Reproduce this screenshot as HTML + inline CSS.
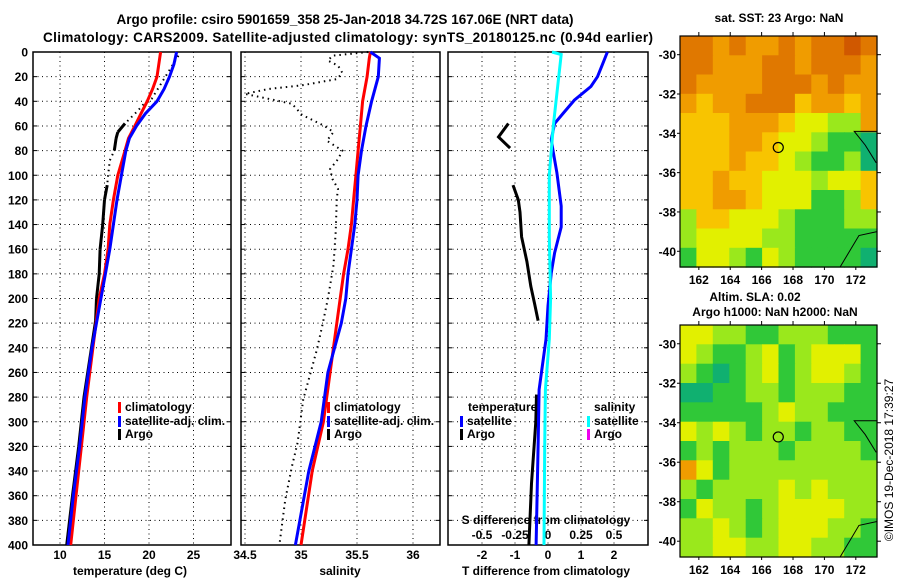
<!DOCTYPE html>
<html><head><meta charset="utf-8"><style>
body{margin:0;background:#fff;}
svg{display:block;font-family:"Liberation Sans",sans-serif;font-weight:bold;}
</style></head><body>
<svg id="fig" width="900" height="580" viewBox="0 0 900 580" xmlns="http://www.w3.org/2000/svg">
<g id="maps"></g>
<g id="plots"></g>
<text x="345" y="24" font-size="13.5" text-anchor="middle">Argo profile: csiro 5901659_358 25-Jan-2018 34.72S 167.06E (NRT data)</text>
<text x="348" y="42" font-size="13.5" text-anchor="middle" textLength="610">Climatology: CARS2009. Satellite-adjusted climatology: synTS_20180125.nc (0.94d earlier)</text>
<text x="779" y="22" font-size="12" text-anchor="middle">sat. SST: 23 Argo: NaN</text>
<text x="755" y="301" font-size="12" text-anchor="middle">Altim. SLA: 0.02</text>
<text x="775" y="316" font-size="12" text-anchor="middle">Argo h1000: NaN h2000: NaN</text>
<text x="0" y="0" font-size="12" font-weight="normal" text-anchor="middle" transform="translate(893,460) rotate(-90)">©IMOS 19-Dec-2018 17:39:27</text>
</svg>
<script>
// ---- data ----
const depthC = [0,10,20,30,40,50,60,70,80,100,120,140,160,180,200,240,280,320,360,400];
const tempClim = [21.3,21.1,20.9,20.4,19.8,19.1,18.4,17.7,17.3,16.5,16.0,15.6,15.4,15.0,14.4,13.7,13.0,12.4,11.8,11.2];
const tempSat = [23.1,22.8,22.3,21.7,20.9,19.6,18.6,17.8,17.4,16.9,16.4,16.0,15.6,15.1,14.6,13.6,12.8,12.2,11.5,10.9];
const argoTDepth = [3,38,43,48,58,65,70,80,88,100,108,120,140,160,180,200,218,280,320,360,400];
const argoTemp = [23.3,20.3,19.3,18.7,17.3,16.5,16.3,16.1,15.6,15.4,15.3,15.0,14.8,14.5,14.4,14.1,14.0,12.7,12.1,11.4,10.75];
const argoTGood = [0,0,0,0,1,1,1,1,0,0,1,1,1,1,1,1,1,1,1,1,1];
const salDepth = [0,5,20,40,60,80,100,120,140,160,180,200,220,260,300,340,400];
const salClim = [35.62,35.61,35.59,35.55,35.53,35.51,35.49,35.47,35.45,35.42,35.38,35.35,35.32,35.26,35.20,35.10,35.00];
const salSat = [35.62,35.70,35.69,35.63,35.58,35.54,35.51,35.50,35.48,35.45,35.42,35.40,35.36,35.24,35.18,35.07,34.95];
const argoSDepth = [0,3,7,11,17,22,27,30,34,38,42,51,60,65,72,80,87,95,103,111,119,146,173,200,222,242,282,317,336,363,398];
const argoSal = [35.60,35.28,35.24,35.33,35.37,35.32,35.01,34.71,34.50,34.71,34.92,35.01,35.21,35.29,35.23,35.37,35.33,35.26,35.28,35.33,35.32,35.31,35.29,35.24,35.19,35.14,35.02,34.97,34.92,34.86,34.81];
const tdSatDepth = [0,10,20,28,39,50,58,71,80,98,125,142,163,179,206,233,274,320,360,400];
const tdSat = [1.8,1.65,1.5,1.3,0.8,0.45,0.2,0.1,0.15,0.27,0.4,0.4,0.2,0.1,0,-0.06,-0.27,-0.3,-0.33,-0.36];
const tdArgoDepth = [58,69,78,null,108,120,130,150,170,190,205,218,null,278,300,350,400];
const tdArgo = [-1.2,-1.5,-1.15,null,-1.06,-0.9,-0.85,-0.8,-0.64,-0.52,-0.4,-0.3,null,-0.35,-0.37,-0.5,-0.58];
const sdSatDepth = [0,2,60,100,150,200,233,274,320,400];
const sdSat = [0.03,0.1,0.04,0.01,0.01,0.02,0.01,-0.02,-0.025,-0.03];
const depthTicks = [0,20,40,60,80,100,120,140,160,180,200,220,240,260,280,300,320,340,360,380,400];
const tempTicks = [10,15,20,25];
const salTicks = [34.5,35,35.5,36];
const tdTicks = [-2,-1,0,1,2];
const sdTicks = [-0.5,-0.25,0,0.25,0.5];
const lonTicks = [162,164,166,168,170,172];
const latTicks = [-30,-32,-34,-36,-38,-40];
const sstGrid = ["DDODOODODDRD","DDOOODDODDDO","DOOOODDDODOO","OYOODDDYOOYO","YYYOOOYLLGGO","YYYOOYLLGNNT","YYYOYYLGNNGT","YYOYYLLLGLLY","YYOOYLLLNNGY","GYYLLLGNNNGG","GLLLLGGNNNNN","NLLGNLGNNNNT"];
const slaGrid = ["LLGGNNGGGNNN","LGNNGLNGLLLN","GNTNGLNGLLGN","TTNNGGNGGGNN","NNNNNGLGGNNN","LGLGNGGNGGNN","NGNGGGNGGGGN","OLNGGGGGGGGG","GNGGGGLGLGGG","NLGGNGLLLLGG","GGLGNGLLLGGN","GGLLGGLLGGNN"];
const argoLon = 167.06, argoLat = -34.72;

const NS = "http://www.w3.org/2000/svg";
const plots = document.getElementById('plots');
const maps = document.getElementById('maps');
function mk(tag, attrs, parent){const e=document.createElementNS(NS,tag);for(const k in attrs)e.setAttribute(k,attrs[k]);(parent||plots).appendChild(e);return e;}
function txt(x,y,s,size,anchor,parent){const t=mk('text',{x:x,y:y,'font-size':size,'text-anchor':anchor||'middle'},parent);t.textContent=s;return t;}

// axes
const Y0=52, Y1=545;
const yD = d => Y0 + (d/400)*(Y1-Y0);
const xT = v => 60 + (v-10)*8.9;
const xS = v => 245 + (v-34.5)*112;
const xTD = v => 548 + v*33;
const xSD = v => 548 + v*132;
const panels = [{x0:33,x1:231,name:'temperature'},{x0:241,x1:440,name:'salinity'},{x0:448,x1:648,name:'difference'}];

function poly(ds, vs, fx, color, w, dash, name){
  let segs=[[]];
  for(let i=0;i<ds.length;i++){ if(ds[i]===null||vs[i]===null){segs.push([]);continue;} segs[segs.length-1].push(fx(vs[i]).toFixed(1)+','+yD(ds[i]).toFixed(1)); }
  segs.filter(s=>s.length>1).forEach(s=>{
    const a={points:s.join(' '),fill:'none',stroke:color,'stroke-width':w,'stroke-linejoin':'miter'};
    if(dash)a['stroke-dasharray']=dash;
    const p=mk('polyline',a);
    
    
  });
}

panels.forEach((p,pi)=>{
  const g=mk('rect',{x:p.x0,y:Y0,width:p.x1-p.x0,height:Y1-Y0,fill:'#fff',stroke:'#000','stroke-width':1.5});
  
  
  depthTicks.forEach(d=>{
    if(d>0&&d<400){
      const l=mk('line',{x1:p.x0,x2:p.x1,y1:yD(d),y2:yD(d),stroke:'#000','stroke-width':1,'stroke-dasharray':'1,3.5'});
      
      
    }
    mk('line',{x1:p.x0,x2:p.x0+4,y1:yD(d),y2:yD(d),stroke:'#000'});
    mk('line',{x1:p.x1-4,x2:p.x1,y1:yD(d),y2:yD(d),stroke:'#000'});
    if(pi===0){
      const t=txt(28,yD(d)+4.5,String(d),12,'end');
      
      
    }
  });
});
function vgrid(ticks, fx, x0, x1){
  ticks.forEach(v=>{const x=fx(v); if(x>x0+1&&x<x1-1){
    const l=mk('line',{x1:x,x2:x,y1:Y0,y2:Y1,stroke:'#000','stroke-width':1,'stroke-dasharray':'1,3.5'});
    
    
  }
  const t=txt(x,559,String(v),12);
  
  
  });
}
vgrid(tempTicks,xT,33,231);
vgrid(salTicks,xS,241,440);
vgrid(tdTicks,xTD,448,648);
sdTicks.forEach(v=>{
  const t=txt(xSD(v),539,String(v),12);
  
  
});
let t;
t=txt(130,575,'temperature (deg C)',12);  
t=txt(340,575,'salinity',12);  
t=txt(546,575,'T difference from climatology',12);  
t=txt(546,524,'S difference from climatology',12);  

// temperature panel
poly(argoTDepth,argoTemp,xT,'#000',2,'1.5,4','argo-temp-dotted');
for(let i=0;i<argoTDepth.length-1;i++){ if(argoTGood[i]&&argoTGood[i+1]) poly([argoTDepth[i],argoTDepth[i+1]],[argoTemp[i],argoTemp[i+1]],xT,'#000',3,null,'argo-temp-line'); }
poly(depthC,tempClim,xT,'#f00',3,null,'temp-climatology-line');
poly(depthC,tempSat,xT,'#00f',3,null,'temp-satellite-adj-line');
// salinity panel
poly(argoSDepth,argoSal,xS,'#000',2,'1.5,4','argo-salinity-dotted');
poly(salDepth,salClim,xS,'#f00',3,null,'sal-climatology-line');
poly(salDepth,salSat,xS,'#00f',3,null,'sal-satellite-adj-line');
// difference panel
poly(tdArgoDepth,tdArgo,xTD,'#000',3,null,'argo-t-diff-line');
poly(tdSatDepth,tdSat,xTD,'#00f',3,null,'satellite-t-diff-line');
poly(sdSatDepth,sdSat,xSD,'#0ff',3,null,'satellite-s-diff-line');

// legends
function legEntry(x,y,color,label,name){
  const r=mk('rect',{x:x,y:y-9,width:3,height:11,fill:color});
  
  
  const tt=txt(x+7,y,label,12,'start');
  
  
}
legEntry(118,411,'#f00','climatology','legend-climatology');
legEntry(118,425,'#00f','satellite-adj. clim.','legend-satellite-adj');
legEntry(118,438,'#000','Argo','legend-argo');
legEntry(327,411,'#f00','climatology','legend-climatology-sal');
legEntry(327,425,'#00f','satellite-adj. clim.','legend-satellite-adj-sal');
legEntry(327,438,'#000','Argo','legend-argo-sal');
t=txt(468,411,'temperature',12,'start');  
legEntry(460,425,'#00f','satellite','legend-t-satellite');
legEntry(460,438,'#000','Argo','legend-t-argo');
t=txt(594,411,'salinity',12,'start');  
legEntry(587,425,'#0ff','satellite','legend-s-satellite');
legEntry(587,438,'#e0e','Argo','legend-s-argo');

// maps
const colors={R:'#d05800',D:'#e07800',O:'#f09c00',Y:'#f8c400',L:'#e2f000',G:'#9ae81c',N:'#30c838',T:'#10b070'};
function drawMap(grid, top, bot, latTop, latBot, prefix){
  const L=680,R=877;
  const lon0=160.8, lon1=173.35;
  const xL = v => L + (v-lon0)/(lon1-lon0)*(R-L);
  const yL = v => top + (latTop - v)/(latTop-latBot)*(bot-top);
  const rows=grid.length, cols=grid[0].length;
  const cw=(R-L)/cols, ch=(bot-top)/rows;
  for(let r=0;r<rows;r++)for(let c=0;c<cols;c++){
    const cell=mk('rect',{x:(L+c*cw).toFixed(1),y:(top+r*ch).toFixed(1),width:(cw+0.6).toFixed(1),height:(ch+0.6).toFixed(1),fill:colors[grid[r][c]]},maps);
    
    
  }
  const c1=mk('polyline',{points:`${R},${yL(-33.9)} ${xL(171.9)},${yL(-33.9)} ${xL(172.6)},${yL(-34.6)} ${xL(173.3)},${yL(-35.5)}`,fill:'none',stroke:'#000','stroke-width':1},maps);
  
  
  const c2=mk('polyline',{points:`${R},${yL(-39.0)} ${xL(172.2)},${yL(-39.2)} ${xL(171.6)},${yL(-40.0)} ${xL(171.0)},${yL(-40.8)}`,fill:'none',stroke:'#000','stroke-width':1},maps);
  
  
  const box=mk('rect',{x:L,y:top,width:R-L,height:bot-top,fill:'none',stroke:'#000','stroke-width':1.2},maps);
  
  
  const circ=mk('circle',{cx:xL(argoLon),cy:yL(argoLat),r:5,fill:'none',stroke:'#000','stroke-width':1.2},maps);
  
  
  lonTicks.forEach(v=>{
    mk('line',{x1:xL(v),x2:xL(v),y1:top-4,y2:top,stroke:'#000'},maps);
    mk('line',{x1:xL(v),x2:xL(v),y1:bot,y2:bot+3,stroke:'#000'},maps);
    const tl=txt(xL(v),bot+17,String(v),12,'middle',maps);
    
    
  });
  latTicks.forEach(v=>{
    mk('line',{x1:L-3,x2:L,y1:yL(v),y2:yL(v),stroke:'#000'},maps);
    mk('line',{x1:R,x2:R+4,y1:yL(v),y2:yL(v),stroke:'#000'},maps);
    const tl=txt(L-4,yL(v)+4.5,String(v),12,'end',maps);
    
    
  });
}
drawMap(sstGrid,36,267,-29.05,-40.8,'sst-map');
drawMap(slaGrid,325,557,-29.05,-40.8,'sla-map');
</script>
</body></html>
